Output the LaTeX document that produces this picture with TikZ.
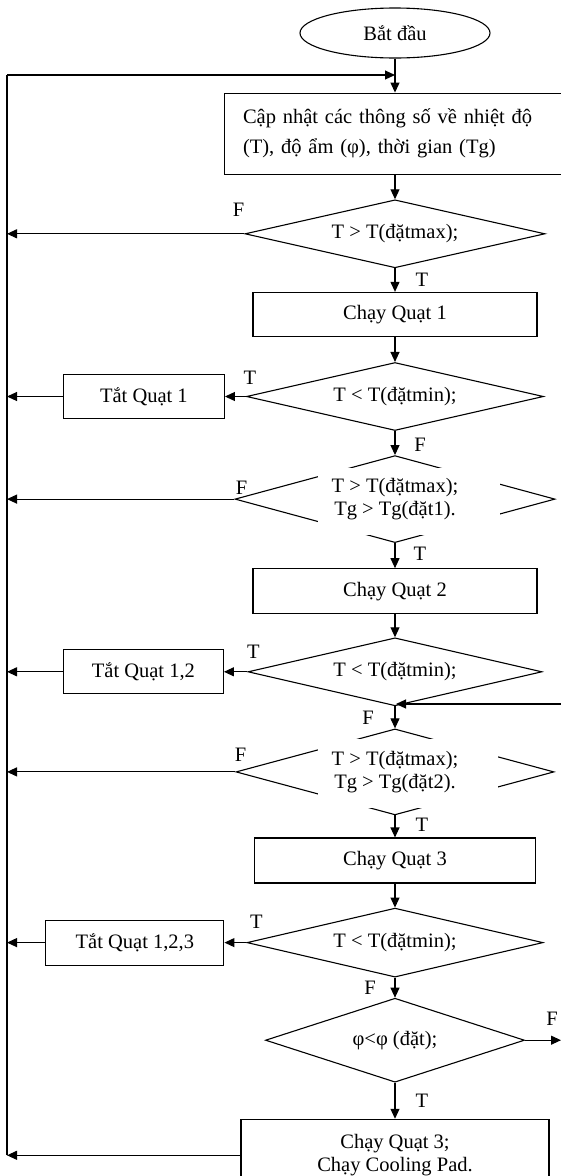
\documentclass[tikz,border=0pt]{standalone}
\usepackage{fontspec}
\setmainfont{Liberation Serif}
\usetikzlibrary{arrows.meta,positioning,shapes.geometric,calc}

\begin{document}
\begin{tikzpicture}[
  x=1pt, y=-1pt,
  font=\fontsize{20.5pt}{23pt}\selectfont,
  line width=1.1pt,
  >={Triangle[length=10pt,width=9pt]},
  line/.style={->},
  term/.style={ellipse, draw, inner sep=0pt, minimum width=190pt, minimum height=50pt},
  box/.style={rectangle, draw, align=center, inner sep=2pt, minimum height=44pt},
  test/.style={diamond, aspect=4.4, draw, align=center, inner sep=0pt, minimum height=68pt},
  tf/.style={inner sep=0pt}
]
\useasboundingbox (0,0) rectangle (561,1176);
\clip (0,0) rectangle (561,1176);
\fill[white] (0,0) rectangle (561,1176);

% Nodes (main spine)
\node[term] (start) at (395,33) {Bắt đầu};

\node[box, below=34pt of start, minimum width=341pt, minimum height=81pt,
  text width=304pt, align=left, font=\fontsize{20.5pt}{30pt}\selectfont] (update)
  {Cập nhật các thông số về nhiệt độ\\(T), độ ẩm (φ), thời gian (Tg)};

\node[test, below=24.6pt of update, minimum width=300pt] (cmpA) {T > T(đặtmax);};

\node[box, below=23.5pt of cmpA, minimum width=284pt] (fan1) {Chạy Quạt 1};

\node[test, below=25pt of fan1, minimum width=297pt] (minA) {T < T(đặtmin);};

\node[test, below=24pt of minA, minimum width=320pt, minimum height=87pt] (cmpB) {};
\fill[white] ($(cmpB)+(-77,-31.5)$) rectangle ($(cmpB)+(105,35.5)$);
\node[align=center] (cmpBtext) at (cmpB) {T > T(đặtmax);\\Tg > Tg(đặt1).};

\node[box, below=25pt of cmpB, minimum width=284pt, minimum height=45pt] (fan2) {Chạy Quạt 2};

\node[test, below=23pt of fan2, minimum width=294pt] (minB) {T < T(đặtmin);};

\node[test, below=22pt of minB, minimum width=318pt, minimum height=86pt] (cmpC) {};
\fill[white] ($(cmpC)+(-77,-33)$) rectangle ($(cmpC)+(103,36)$);
\node[align=center] (cmpCtext) at (cmpC) {T > T(đặtmax);\\Tg > Tg(đặt2).};

\node[box, below=22pt of cmpC, minimum width=281pt, minimum height=45pt] (fan3) {Chạy Quạt 3};

\node[test, below=24pt of fan3, minimum width=296pt, minimum height=69pt] (minC) {T < T(đặtmin);};

\node[test, aspect=3, below=20pt of minC, minimum width=259pt, minimum height=84pt] (humid) {φ<φ (đặt);};

\node[box, below=36pt of humid, minimum width=308pt, minimum height=72pt] (pad)
  {Chạy Quạt 3;\\Chạy Cooling Pad.};

% Side boxes
\node[box, left=21pt of minA, minimum width=161pt] (off1) {Tắt Quạt 1};
\node[box, left=23.5pt of minB, minimum width=160pt] (off2) {Tắt Quạt 1,2};
\node[box, left=22pt of minC, minimum width=178pt, minimum height=45pt] (off3) {Tắt Quạt 1,2,3};

% Return rail
\coordinate (railtop) at (7,75);
\coordinate (back) at (561,704);

% Arrows (main spine)
\draw[line] (start) -- (update);
\draw[line] (update) -- (cmpA);
\draw[line] (cmpA) -- (fan1);
\draw[line] (fan1) -- (minA);
\draw[line] (minA) -- (cmpB);
\draw[line] (cmpB) -- (fan2);
\draw[line] (fan2) -- (minB);
\draw[line] (minB) -- (cmpC);
\draw[line] (cmpC) -- (fan3);
\draw[line] (fan3) -- (minC);
\draw[line] (minC) -- (humid);
\draw[line] (humid) -- (pad);

% Side links
\draw[line] (minA.west) -- (off1.east);
\draw[line] (minB.west) -- (off2.east);
\draw[line] (minC.west) -- (off3.east);
\draw[line] (cmpA.west) -- (cmpA.west -| railtop);
\draw[line] (off1.west) -- (off1.west -| railtop);
\draw[line] (cmpB.west) -- (cmpB.west -| railtop);
\draw[line] (off2.west) -- (off2.west -| railtop);
\draw[line] (cmpC.west) -- (cmpC.west -| railtop);
\draw[line] (off3.west) -- (off3.west -| railtop);
\draw[line] (pad.west) -- (pad.west -| railtop);
\draw (pad.west -| railtop) -- (railtop);
\draw[line] (railtop) -- (railtop -| start);
\draw[line] (humid.east) -- (humid.east -| back);
\draw[line] (back) -- ($(back -| minB.south)+(1,0)$);

% Branch labels
\node[tf] at ($(cmpA.west)+(-6,-24)$) {F};
\node[tf] at ($(cmpA.south)+(27,11.5)$) {T};
\node[tf] at ($(minA.west)+(4,-19)$) {T};
\node[tf] at ($(minA.south)+(25,13.5)$) {F};
\node[tf] at ($(cmpB.west)+(7,-11)$) {F};
\node[tf] at ($(cmpB.south)+(25,11)$) {T};
\node[tf] at ($(minB.west)+(6,-20)$) {T};
\node[tf] at ($(minB.south)+(-27,11)$) {F};
\node[tf] at ($(cmpC.west)+(5,-17)$) {F};
\node[tf] at ($(cmpC.south)+(27,9)$) {T};
\node[tf] at ($(minC.west)+(10,-21)$) {T};
\node[tf] at ($(minC.south)+(-25,10)$) {F};
\node[tf] at ($(humid.east)+(27,-21)$) {F};
\node[tf] at ($(humid.south)+(27,18)$) {T};

\end{tikzpicture}
\end{document}
